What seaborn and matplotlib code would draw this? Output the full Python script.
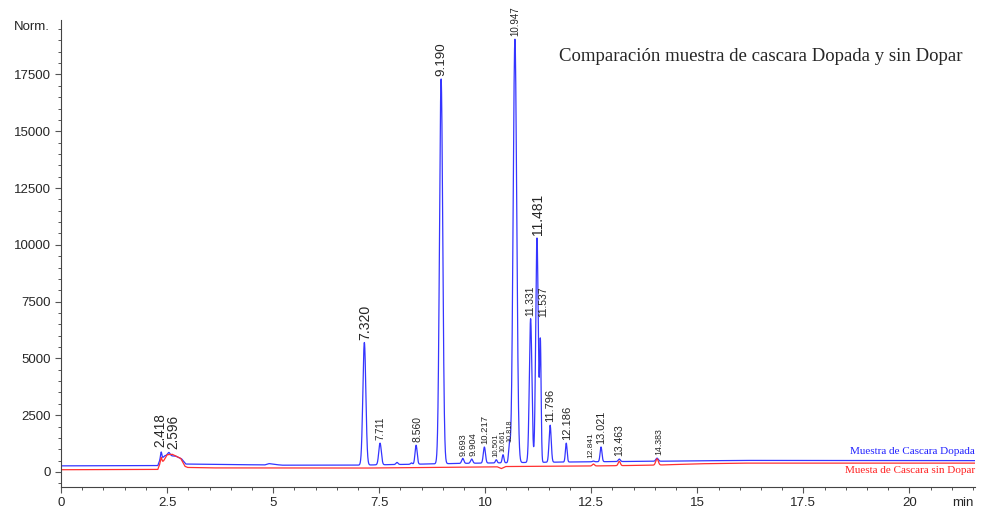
"""
Chromatogram comparison: doped vs. undoped peel sample
Output: out.png
"""

import numpy as np
import pandas as pd
import matplotlib
matplotlib.use('Agg')
import matplotlib.pyplot as plt
from matplotlib.ticker import MultipleLocator
import seaborn as sns

# ── Colours ──────────────────────────────────────────────────
BLUE = '#3535ff'
RED = '#ff3030'

# ── Data ─────────────────────────────────────────────────────
# blue trace: baseline knots (min, signal)
blue_base_t = [0.0, 2.28, 2.33, 2.45, 2.70, 2.84, 2.94, 3.50, 4.80, 4.90, 5.05, 5.20,
               7.0, 9.5, 11.0, 12.5, 14.5, 16.0, 21.6]
blue_base_v = [270, 280, 520, 720, 700, 580, 350, 340, 310, 370, 330, 300,
               300, 380, 420, 450, 480, 510, 500]

# blue trace: peaks (position on the time axis, apex signal, width)
blue_peak_t = [2.36, 2.54, 7.15, 7.52, 7.92, 8.26, 8.37, 8.96, 9.47, 9.68,
               9.98, 10.26, 10.42, 10.57, 10.70, 11.07, 11.22, 11.30,
               11.53, 11.91, 12.55, 12.73, 13.16, 14.05]
blue_peak_v = [880, 860, 5700, 1270, 420, 400, 1180, 17300, 600, 570,
               1100, 540, 760, 1180, 19050, 6750, 10300, 5600,
               2060, 1270, 480, 1100, 570, 610]
blue_peak_w = [0.015, 0.03, 0.035, 0.03, 0.025, 0.02, 0.025, 0.038, 0.025, 0.025,
               0.025, 0.02, 0.02, 0.02, 0.042, 0.03, 0.03, 0.018,
               0.025, 0.02, 0.02, 0.022, 0.025, 0.028]

# peak labels: text, centre on the time axis, signal of the peak below it
label_txt = ['2.418', '2.596', '7.320', '7.711', '8.560', '9.190', '9.693', '9.904',
             '10.217', '10.501', '10.661', '10.818', '10.947', '11.331', '11.481',
             '11.537', '11.796', '12.186', '12.841', '13.021', '13.463', '14.383']
label_x = [2.33, 2.64, 7.17, 7.52, 8.40, 8.96, 9.48, 9.71, 10.00, 10.26,
           10.42, 10.57, 10.71, 11.06, 11.25, 11.37, 11.53, 11.93,
           12.49, 12.74, 13.17, 14.08]
label_v = [960, 900, 5700, 1270, 1180, 17300, 600, 570, 1100, 540,
           760, 1180, 19050, 6750, 10300, 6700, 2060, 1270, 480, 1100, 570, 610]
label_fs = [9.8, 9.8, 10.2, 7, 7.5, 9.6, 6.5, 6.8, 6.8, 5.6,
            5.2, 5.2, 7, 7.4, 10, 7.4, 8, 8, 6, 7.8, 7.5, 6.3]

# red trace: baseline knots
red_base_t = [0.0, 2.28, 2.33, 2.42, 2.50, 2.62, 2.82, 2.92, 2.98, 3.50, 7.0,
              10.28, 10.38, 10.48, 12.3, 14.0, 15.0, 16.0, 21.6]
red_base_v = [100, 110, 350, 500, 760, 780, 600, 250, 200, 180, 170,
              230, 150, 240, 260, 300, 360, 390, 390]

# red trace: peaks
red_peak_t = [2.36, 12.55, 13.16, 14.05]
red_peak_v = [640, 350, 470, 580]
red_peak_w = [0.015, 0.025, 0.025, 0.03]


def build_trace(t, base_t, base_v, pk_t, pk_v, pk_w):
    base = np.interp(t, base_t, base_v)
    y = base.copy()
    for p, v, w in zip(pk_t, pk_v, pk_w):
        amp = v - np.interp(p, base_t, base_v)
        y += amp * np.exp(-0.5 * ((t - p) / w) ** 2)
    return y


t = np.linspace(0, 21.6, 12000)
blue = build_trace(t, blue_base_t, blue_base_v, blue_peak_t, blue_peak_v, blue_peak_w)
red = build_trace(t, red_base_t, red_base_v, red_peak_t, red_peak_v, red_peak_w)

df = pd.concat([
    pd.DataFrame({'time': t, 'signal': blue, 'trace': 'Muestra de Cascara Dopada'}),
    pd.DataFrame({'time': t, 'signal': red, 'trace': 'Muesta de Cascara sin Dopar'}),
])

# ── Plot ─────────────────────────────────────────────────────
sns.set_style('ticks')
plt.rcParams['font.family'] = ['Liberation Sans', 'DejaVu Sans']

fig = plt.figure(figsize=(9.85, 5.11), dpi=100, facecolor='white')
ax = fig.add_axes([0.062, 0.047, 0.928, 0.914])

sns.lineplot(data=df, x='time', y='signal', hue='trace',
             palette={'Muestra de Cascara Dopada': BLUE,
                      'Muesta de Cascara sin Dopar': RED},
             estimator=None, legend=False, linewidth=0.9, ax=ax)

for x, s, v, fs in zip(label_x, label_txt, label_v, label_fs):
    ax.annotate(s, (x, v), xytext=(0, 2), textcoords='offset points',
                rotation=90, ha='center', va='bottom', fontsize=fs)

ax.set_xlim(0, 21.55)
ax.set_ylim(-660, 19900)
ax.xaxis.set_minor_locator(MultipleLocator(0.5))
ax.yaxis.set_minor_locator(MultipleLocator(500))
ax.set_xticks([0, 2.5, 5, 7.5, 10, 12.5, 15, 17.5, 20])
ax.set_xticklabels(['0', '2.5', '5', '7.5', '10', '12.5', '15', '17.5', '20'])
ax.set_yticks(range(0, 17501, 2500))
ax.tick_params(which='major', length=4, width=0.8, labelsize=9.5, color='#555555')
ax.tick_params(which='minor', length=2.5, width=0.7, color='#555555')
ax.set_xlabel('')
ax.set_ylabel('')
ax.spines[['top', 'right']].set_visible(False)
ax.spines[['left', 'bottom']].set_color('#444444')

ax.text(-0.012, 0.985, 'Norm.', transform=ax.transAxes, ha='right', va='center',
        fontsize=9.5)
ax.text(0.987, -0.022, 'min', transform=ax.transAxes, ha='center', va='top',
        fontsize=9.5)

ax.text(0.765, 0.922, 'Comparación muestra de cascara Dopada y sin Dopar',
        transform=ax.transAxes, ha='center', va='center',
        fontsize=13.5, family='Liberation Serif')
ax.text(1.0, 0.075, 'Muestra de Cascara Dopada', transform=ax.transAxes,
        ha='right', va='center', fontsize=8, color='#2020ff', family='Liberation Serif')
ax.text(1.0, 0.036, 'Muesta de Cascara sin Dopar', transform=ax.transAxes,
        ha='right', va='center', fontsize=8, color='#ff2020', family='Liberation Serif')

plt.savefig('out.png', dpi=100, facecolor='white')
print("Saved -> out.png")
